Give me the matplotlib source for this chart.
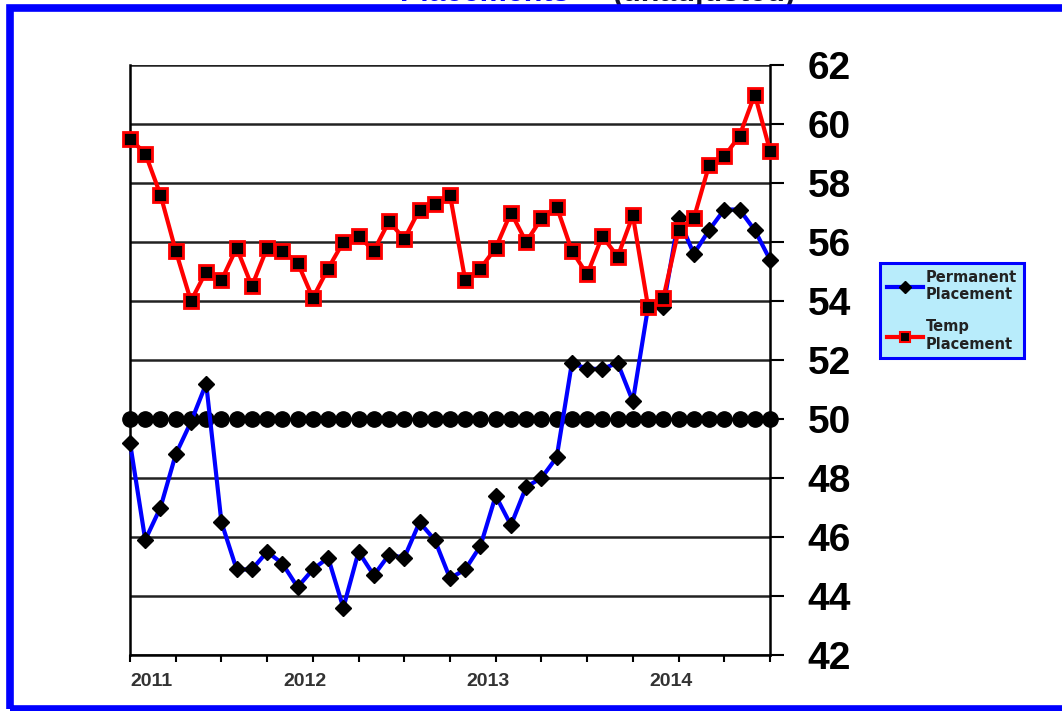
import matplotlib
matplotlib.use("Agg")
import matplotlib.pyplot as plt
from matplotlib.patches import Rectangle
from matplotlib.lines import Line2D

# ---- data ----
months = list(range(43))  # Jan 2011 .. Jul 2014, monthly
temp = [59.5, 59.0, 57.6, 55.7, 54.0, 55.0, 54.7, 55.8, 54.5, 55.8,
        55.7, 55.3, 54.1, 55.1, 56.0, 56.2, 55.7, 56.7, 56.1, 57.1,
        57.3, 57.6, 54.7, 55.1, 55.8, 57.0, 56.0, 56.8, 57.2, 55.7,
        54.9, 56.2, 55.5, 56.9, 53.8, 54.1, 56.4, 56.8, 58.6, 58.9,
        59.6, 61.0, 59.1]
perm = [49.2, 45.9, 47.0, 48.8, 49.9, 51.2, 46.5, 44.9, 44.9, 45.5,
        45.1, 44.3, 44.9, 45.3, 43.6, 45.5, 44.7, 45.4, 45.3, 46.5,
        45.9, 44.6, 44.9, 45.7, 47.4, 46.4, 47.7, 48.0, 48.7, 51.9,
        51.7, 51.7, 51.9, 50.6, 53.8, 53.8, 56.8, 55.6, 56.4, 57.1,
        57.1, 56.4, 55.4]
neutral = [50] * len(months)
year_labels = ["2011", "2012", "2013", "2014"]
year_pos = [0, 11.5, 23.5, 35.5]
yticks = [42, 44, 46, 48, 50, 52, 54, 56, 58, 60, 62]

plt.rcParams['font.family'] = ['Liberation Sans', 'DejaVu Sans']

W, H = 1062, 711
fig = plt.figure(figsize=(W / 100, H / 100), dpi=100)
fig.patch.set_facecolor("white")

ax = fig.add_axes([130 / W, 1 - 655 / H, 640 / W, 590 / H])
ax.set_xlim(0, 42)
ax.set_ylim(42, 62)

for y in yticks:
    ax.axhline(y, color="#222222", lw=1.8, zorder=1)

ax.plot(months, neutral, color="black", lw=2, marker="o", markersize=11,
        markerfacecolor="black", markeredgecolor="black", zorder=3, clip_on=False)
ax.plot(months, perm, color="#0000ff", lw=3, marker="D", markersize=8.5,
        markerfacecolor="black", markeredgecolor="black", zorder=4, clip_on=False)
ax.plot(months, temp, color="#ff0000", lw=3, marker="s", markersize=9.5,
        markerfacecolor="black", markeredgecolor="#ff0000", markeredgewidth=2,
        zorder=5, clip_on=False)

ax.yaxis.tick_right()
ax.set_yticks(yticks)
ax.set_yticklabels([str(v) for v in yticks], fontsize=28, fontweight="bold")
ax.tick_params(axis="y", direction="out", length=10, width=1.5, pad=17,
               colors="black")
ax.set_xticks(range(0, 43, 3))
ax.set_xticklabels([])
ax.tick_params(axis="x", direction="out", length=5, width=1.5, colors="black")

for s in ["left", "right", "bottom"]:
    ax.spines[s].set_linewidth(1.8)
    ax.spines[s].set_color("black")
ax.spines["top"].set_visible(False)

for lab, p in zip(year_labels, year_pos):
    ax.text(p, -27 / 590, lab, transform=ax.get_xaxis_transform(),
            ha="left" if p == 0 else "center", va="center",
            fontsize=14, fontweight="bold", color="#333333")

handles = [
    Line2D([], [], color="#0000ff", lw=3, marker="D", markersize=6,
           markerfacecolor="black", markeredgecolor="black"),
    Line2D([], [], color="#ff0000", lw=3, marker="s", markersize=7,
           markerfacecolor="black", markeredgecolor="#ff0000", markeredgewidth=1.5),
]
leg = fig.legend(handles, ["Permanent\nPlacement", "Temp\nPlacement"],
                 loc="upper left", bbox_to_anchor=(880 / W, 1 - 263 / H),
                 frameon=True, fancybox=False,
                 prop={"family": "DejaVu Sans", "weight": "bold", "size": 10.5},
                 handlelength=2.5, handletextpad=0.2, labelspacing=1.2,
                 borderpad=0.45, borderaxespad=0)
leg.get_frame().set_facecolor("#b8ecfb")
leg.get_frame().set_edgecolor("#0000ff")
leg.get_frame().set_linewidth(2.2)
leg.get_frame().set_alpha(1)
for t in leg.get_texts():
    t.set_color("#222222")

# figure border
fig.patches.append(Rectangle((10 / W, 2 / H), 1.05, 1 - 10 / H,
                             transform=fig.transFigure, fill=False,
                             edgecolor="#0000ff", lw=5.5, zorder=10))

# title (mostly cut off at the top, as in the source)
fig.text(400 / W, 1 - 1 / H, "Placements", color="#0000ff", fontsize=22,
         fontweight="bold", ha="left", va="baseline")
fig.text(612 / W, 1 - 1 / H, "(unadjusted)", color="#111133", fontsize=22,
         fontweight="bold", ha="left", va="baseline")

fig.savefig("out.png", dpi=100)
